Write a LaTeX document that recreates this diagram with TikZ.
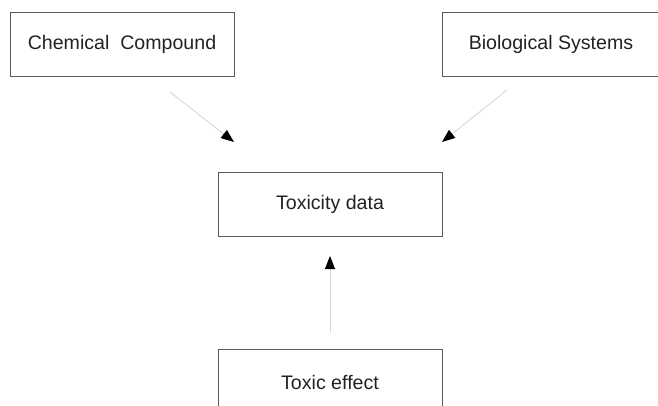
\documentclass[tikz,border=0pt]{standalone}
\usepackage{fontspec}
\setmainfont{Liberation Sans}
\usetikzlibrary{arrows.meta}
\definecolor{boxgray}{HTML}{5A5A5A}
\definecolor{txtgray}{HTML}{222222}
\definecolor{linegray}{HTML}{D8D8D8}
\begin{document}
\begin{tikzpicture}[x=1pt,y=-1pt,
    block/.style={draw=boxgray,line width=0.9pt,text=txtgray,
      minimum height=64pt,inner sep=0pt,
      font=\fontsize{19.6}{22}\selectfont},
    link/.style={draw=linegray,line width=0.9pt,
      -{Triangle[length=13pt,width=10pt,fill=black,color=black]}}]
    \useasboundingbox (0,0) rectangle (658,405);
    \clip (0,0) rectangle (658,405);

    % Boxes
    \node[block,minimum width=224pt] (chem) at (122,44) {Chemical\ \ Compound};
    \node[block,minimum width=218pt] (bio) at (551,44) {Biological Systems};
    \node[block,minimum width=224pt] (tox) at (330,204) {Toxicity data};
    \node[block,minimum width=224pt,minimum height=66pt] (effect) at (330,382) {Toxic effect};

    % Arrow ends
    \coordinate (chemOut) at (170,92);
    \coordinate (chemIn) at (234,142);
    \coordinate (bioOut) at (507,90);
    \coordinate (bioIn) at (442,142);
    \coordinate (effOut) at (330,333);
    \coordinate (effIn) at (330,256);

    % Arrows
    \draw[link] (chemOut) -- (chemIn);
    \draw[link] (bioOut) -- (bioIn);
    \draw[link] (effOut) -- (effIn);
\end{tikzpicture}
\end{document}
